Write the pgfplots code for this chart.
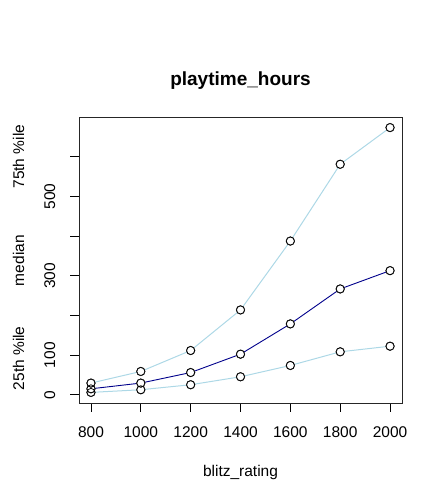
\documentclass[border=0pt]{standalone}
\usepackage{pgfplots}
\pgfplotsset{compat=1.18}
\usepackage{pgfplotstable}
\usepackage{fontspec}
\setmainfont{Liberation Sans}
\usetikzlibrary{calc}
\definecolor{lb}{HTML}{ADD8E6}
\definecolor{db}{HTML}{00008B}
\newcommand\tf{\fontsize{15.5bp}{18bp}\selectfont}
\newcommand\ttf{\fontsize{19bp}{22bp}\selectfont\bfseries}
\pgfplotstableread{
x q25 med q75
800 5.9 15 29.4
1000 12.6 29.4 58.7
1200 25.2 56 111.5
1400 45.3 102.3 213.8
1600 73.8 178.6 387.4
1800 108.2 266.7 581
2000 122.4 312.8 673.4
}\data
\begin{document}
\begin{tikzpicture}[x=1bp,y=1bp]
\path[use as bounding box] (0,0) rectangle (442,501);
\begin{axis}[at={(79bp,98bp)}, anchor=south west, scale only axis,
  width=323bp, height=286bp,
  xmin=752, xmax=2048, ymin=-20.8, ymax=700.1,
  xtick={800,1000,1200,1400,1600,1800,2000},
  ytick={0,100,200,300,400,500,600},
  xticklabels={}, yticklabels={},
  tick align=outside, major tick length=9bp, tick pos=left,
  tick style={black, line width=0.9bp},
  axis line style={black!85, line width=0.9bp},
  clip=false]
\addplot[lb, line width=1bp] table[x=x,y=q25]{\data};
\addplot[db, line width=0.9bp] table[x=x,y=med]{\data};
\addplot[lb, line width=1bp] table[x=x,y=q75]{\data};
\addplot[only marks, mark=*, mark size=4.4bp, mark options={fill=white, draw=none}] table[x=x,y=q25]{\data};
\addplot[only marks, mark=*, mark size=4.4bp, mark options={fill=white, draw=none}] table[x=x,y=med]{\data};
\addplot[only marks, mark=*, mark size=4.4bp, mark options={fill=white, draw=none}] table[x=x,y=q75]{\data};
\addplot[only marks, mark=o, mark size=4bp, mark options={draw=black, line width=0.75bp}] table[x=x,y=q25]{\data};
\addplot[only marks, mark=o, mark size=4bp, mark options={draw=black, line width=0.75bp}] table[x=x,y=med]{\data};
\addplot[only marks, mark=o, mark size=4bp, mark options={draw=black, line width=0.75bp}] table[x=x,y=q75]{\data};
\pgfplotsinvokeforeach{800,1000,1200,1400,1600,1800,2000}{
  \node[anchor=base, font=\tf, inner sep=0pt] at ($(axis cs:#1,-20.8)+(0pt,-34.5bp)$) {#1};
}
\pgfplotsinvokeforeach{0,100,300,500}{
  \node[rotate=90, anchor=base, font=\tf, inner sep=0pt] at ($(axis cs:752,#1)+(-24bp,0pt)$) {#1};
}
\node[rotate=90, anchor=base, font=\tf, inner sep=0pt] at ($(axis cs:752,92)+(-55bp,0pt)$) {25th \%ile};
\node[rotate=90, anchor=base, font=\tf, inner sep=0pt] at ($(axis cs:752,338)+(-55bp,0pt)$) {median};
\node[rotate=90, anchor=base, font=\tf, inner sep=0pt] at ($(axis cs:752,600)+(-55bp,0pt)$) {75th \%ile};
\node[anchor=base, font=\ttf, inner sep=0pt] at ($(axis cs:1400,700.1)+(0pt,31.5bp)$) {playtime\_hours};
\node[anchor=base, font=\tf, inner sep=0pt] at ($(axis cs:1400,-20.8)+(0pt,-73bp)$) {blitz\_rating};
\end{axis}
\end{tikzpicture}
\end{document}
